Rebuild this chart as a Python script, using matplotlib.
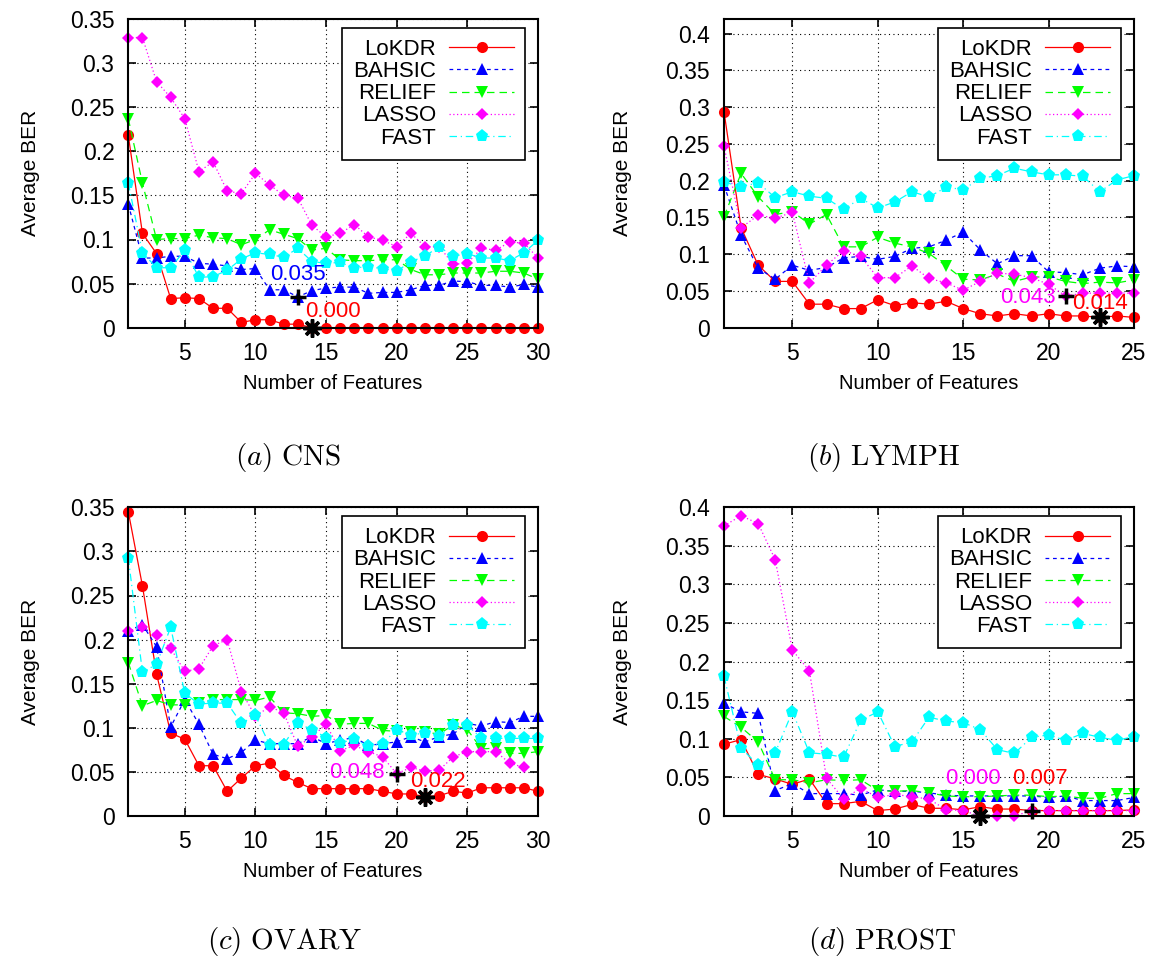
import matplotlib
matplotlib.use('Agg')
import matplotlib.pyplot as plt
from matplotlib.ticker import MultipleLocator, FuncFormatter

plt.rcParams['font.family'] = ['Liberation Sans', 'DejaVu Sans']
plt.rcParams['mathtext.fontset'] = 'cm'

methods = ['LoKDR', 'BAHSIC', 'RELIEF', 'LASSO', 'FAST']

# (a) CNS, 1..30 features
cns_lokdr = [0.218, 0.107, 0.084, 0.033, 0.034, 0.033, 0.022, 0.022, 0.006, 0.009,
             0.009, 0.004, 0.004, 0.0, 0.0, 0.0, 0.0, 0.0, 0.0, 0.0,
             0.0, 0.0, 0.0, 0.0, 0.0, 0.0, 0.0, 0.0, 0.0, 0.0]
cns_bahsic = [0.140, 0.079, 0.079, 0.081, 0.081, 0.073, 0.072, 0.070, 0.066, 0.067,
              0.043, 0.043, 0.035, 0.042, 0.045, 0.046, 0.046, 0.039, 0.040, 0.040,
              0.043, 0.048, 0.048, 0.053, 0.052, 0.048, 0.048, 0.046, 0.049, 0.046]
cns_relief = [0.237, 0.164, 0.100, 0.101, 0.101, 0.105, 0.102, 0.101, 0.094, 0.100,
              0.111, 0.106, 0.101, 0.088, 0.090, 0.077, 0.076, 0.076, 0.077, 0.077,
              0.066, 0.060, 0.060, 0.062, 0.062, 0.062, 0.064, 0.064, 0.062, 0.055]
cns_lasso = [0.329, 0.329, 0.279, 0.261, 0.237, 0.177, 0.188, 0.155, 0.152, 0.175,
             0.162, 0.150, 0.147, 0.116, 0.103, 0.107, 0.117, 0.103, 0.099, 0.092,
             0.107, 0.092, 0.092, 0.072, 0.073, 0.090, 0.088, 0.097, 0.096, 0.079]
cns_fast = [0.164, 0.085, 0.068, 0.068, 0.088, 0.057, 0.058, 0.065, 0.078, 0.085,
            0.083, 0.080, 0.090, 0.075, 0.073, 0.074, 0.068, 0.069, 0.067, 0.064,
            0.075, 0.081, 0.092, 0.081, 0.084, 0.079, 0.079, 0.076, 0.085, 0.099]

# (b) LYMPH, 1..25 features
lymph_lokdr = [0.294, 0.136, 0.085, 0.063, 0.063, 0.032, 0.032, 0.026, 0.026, 0.038,
               0.030, 0.034, 0.032, 0.036, 0.026, 0.019, 0.016, 0.019, 0.016, 0.019,
               0.016, 0.016, 0.014, 0.016, 0.014]
lymph_bahsic = [0.194, 0.126, 0.081, 0.066, 0.085, 0.078, 0.082, 0.095, 0.097, 0.093,
                0.097, 0.108, 0.110, 0.119, 0.130, 0.106, 0.087, 0.098, 0.098, 0.076,
                0.075, 0.072, 0.081, 0.084, 0.083]
lymph_relief = [0.151, 0.210, 0.178, 0.154, 0.158, 0.141, 0.154, 0.110, 0.110, 0.123,
                0.115, 0.110, 0.101, 0.084, 0.066, 0.065, 0.073, 0.063, 0.069, 0.069,
                0.063, 0.060, 0.062, 0.061, 0.065]
lymph_lasso = [0.247, 0.136, 0.153, 0.149, 0.157, 0.061, 0.085, 0.105, 0.097, 0.068,
               0.068, 0.084, 0.067, 0.061, 0.051, 0.063, 0.074, 0.073, 0.068, 0.059,
               0.043, 0.047, 0.047, 0.047, 0.047]
lymph_fast = [0.198, 0.192, 0.197, 0.177, 0.185, 0.179, 0.176, 0.161, 0.176, 0.163,
              0.171, 0.185, 0.178, 0.191, 0.188, 0.203, 0.207, 0.217, 0.212, 0.208,
              0.208, 0.206, 0.185, 0.201, 0.207]

# (c) OVARY, 1..30 features (LASSO stops at 29)
ovary_lokdr = [0.345, 0.261, 0.161, 0.094, 0.087, 0.057, 0.057, 0.028, 0.043, 0.057,
               0.060, 0.046, 0.038, 0.031, 0.031, 0.031, 0.031, 0.031, 0.028, 0.025,
               0.025, 0.022, 0.023, 0.028, 0.026, 0.032, 0.032, 0.032, 0.032, 0.028]
ovary_bahsic = [0.210, 0.217, 0.192, 0.101, 0.132, 0.104, 0.070, 0.065, 0.072, 0.086,
                0.082, 0.082, 0.082, 0.090, 0.082, 0.086, 0.089, 0.080, 0.082, 0.084,
                0.090, 0.084, 0.090, 0.093, 0.105, 0.102, 0.107, 0.106, 0.113, 0.113]
ovary_relief = [0.174, 0.125, 0.131, 0.126, 0.126, 0.128, 0.132, 0.132, 0.132, 0.131,
                0.135, 0.117, 0.116, 0.113, 0.114, 0.104, 0.105, 0.105, 0.097, 0.096,
                0.095, 0.095, 0.093, 0.103, 0.098, 0.076, 0.077, 0.071, 0.071, 0.073]
ovary_lasso = [0.210, 0.214, 0.205, 0.190, 0.164, 0.167, 0.193, 0.200, 0.141, 0.113,
               0.124, 0.117, 0.079, 0.090, 0.104, 0.074, 0.080, 0.073, 0.067, 0.048,
               0.055, 0.051, 0.052, 0.067, 0.073, 0.073, 0.073, 0.060, 0.055]
ovary_fast = [0.293, 0.163, 0.172, 0.214, 0.139, 0.127, 0.128, 0.128, 0.105, 0.114,
              0.081, 0.081, 0.105, 0.098, 0.089, 0.083, 0.087, 0.079, 0.082, 0.098,
              0.092, 0.094, 0.091, 0.103, 0.103, 0.088, 0.088, 0.088, 0.088, 0.088]

# (d) PROST, 1..25 features
prost_lokdr = [0.093, 0.099, 0.054, 0.048, 0.041, 0.048, 0.016, 0.016, 0.019, 0.007,
               0.009, 0.015, 0.010, 0.010, 0.008, 0.012, 0.009, 0.009, 0.007, 0.007,
               0.007, 0.007, 0.007, 0.007, 0.008]
prost_bahsic = [0.146, 0.135, 0.133, 0.033, 0.042, 0.029, 0.029, 0.029, 0.027, 0.034,
                0.032, 0.032, 0.030, 0.027, 0.026, 0.026, 0.026, 0.026, 0.026, 0.024,
                0.026, 0.020, 0.020, 0.020, 0.024]
prost_relief = [0.129, 0.115, 0.096, 0.047, 0.047, 0.043, 0.047, 0.046, 0.047, 0.033,
                0.032, 0.033, 0.030, 0.026, 0.025, 0.025, 0.026, 0.027, 0.027, 0.025,
                0.026, 0.023, 0.023, 0.029, 0.029]
prost_lasso = [0.376, 0.389, 0.379, 0.332, 0.215, 0.188, 0.049, 0.022, 0.036, 0.024,
               0.028, 0.025, 0.022, 0.008, 0.007, 0.0, 0.0, 0.0, 0.007, 0.007,
               0.007, 0.007, 0.007, 0.007, 0.007]
prost_fast = [0.181, 0.088, 0.066, 0.082, 0.135, 0.082, 0.080, 0.076, 0.124, 0.135,
              0.090, 0.096, 0.128, 0.123, 0.121, 0.112, 0.086, 0.081, 0.102, 0.105,
              0.098, 0.107, 0.102, 0.098, 0.103]

# marked minima: (marker, x, y, label, label colour, label x, label y)
cns_marks = [('+', 13, 0.035, '0.035', 'blue', 13.0, 0.060),
             ('*', 14, 0.000, '0.000', 'red', 15.5, 0.018)]
lymph_marks = [('+', 21, 0.043, '0.043', 'magenta', 18.8, 0.041),
               ('*', 23, 0.014, '0.014', 'red', 23.0, 0.033)]
ovary_marks = [('+', 20, 0.048, '0.048', 'magenta', 17.2, 0.049),
               ('*', 22, 0.022, '0.022', 'red', 22.9, 0.039)]
prost_marks = [('*', 16, 0.000, '0.000', 'magenta', 15.6, 0.049),
               ('+', 19, 0.007, '0.007', 'red', 19.5, 0.049)]

panels = [
    ('a', 'CNS', 30, 0.35, [cns_lokdr, cns_bahsic, cns_relief, cns_lasso, cns_fast], cns_marks),
    ('b', 'LYMPH', 25, 0.42, [lymph_lokdr, lymph_bahsic, lymph_relief, lymph_lasso, lymph_fast], lymph_marks),
    ('c', 'OVARY', 30, 0.35, [ovary_lokdr, ovary_bahsic, ovary_relief, ovary_lasso, ovary_fast], ovary_marks),
    ('d', 'PROST', 25, 0.40, [prost_lokdr, prost_bahsic, prost_relief, prost_lasso, prost_fast], prost_marks),
]

styles = {
    'LoKDR':  dict(color='#ff0000', marker='o', ms=8, ls='-'),
    'BAHSIC': dict(color='#0000ff', marker='^', ms=9, ls=(0, (3, 3))),
    'RELIEF': dict(color='#00ff00', marker='v', ms=9, ls=(0, (6, 4))),
    'LASSO':  dict(color='#ff00ff', marker='D', ms=6.3, ls=(0, (1, 2))),
    'FAST':   dict(color='#00ffff', marker='p', ms=9.5, ls=(0, (6, 3, 1, 3))),
}
mark_styles = {'+': dict(marker='+', ms=12, mew=2.5),
               '*': dict(marker=(8, 2, 0), ms=13, mew=2.5)}

fig = plt.figure(figsize=(11.56, 9.64), dpi=100)
W, H = 1156, 964
rects = [(128.3, 19, 538, 327.7), (724, 19, 1134, 327.7),
         (128.3, 507.3, 538, 816), (724, 507.3, 1134, 816)]
captions = [(288, 458), (884, 458), (285, 942), (882, 942)]

for (tag, name, xmax, ymax, series, marks), r, cap in zip(panels, rects, captions):
    x0, y0, x1, y1 = r
    ax = fig.add_axes([x0 / W, 1 - y1 / H, (x1 - x0) / W, (y1 - y0) / H])
    for m, y in zip(methods, series):
        xs = list(range(1, len(y) + 1))
        ax.plot(xs, y, label=m, lw=0.9, mew=0, clip_on=False, **styles[m])
    for mk, mx, my, txt, col, tx, ty in marks:
        ax.plot([mx], [my], color='black', ls='none', clip_on=False, zorder=5, **mark_styles[mk])
        ax.text(tx, ty, txt, color=col, fontsize=16, ha='center', va='center', zorder=6)

    ax.set_xlim(1, xmax)
    ax.set_ylim(0, ymax)
    ax.set_xticks(range(5, xmax + 1, 5))
    ax.yaxis.set_major_locator(MultipleLocator(0.05))
    ax.yaxis.set_major_formatter(FuncFormatter(lambda v, p: f'{round(v, 3):g}'))
    ax.tick_params(direction='in', length=6, width=1.2, top=True, right=True,
                   labelsize=16.5, pad=10)
    ax.grid(True, color='black', ls=(0, (1, 3)), lw=0.8)
    ax.set_axisbelow(True)
    for s in ax.spines.values():
        s.set_linewidth(1.5)

    ax.set_xlabel('Number of Features', fontsize=14.5)
    ax.set_ylabel('Average BER', fontsize=15)
    ax.xaxis.set_label_coords(0.5, -0.15)
    ax.yaxis.set_label_coords(-0.215 if tag in 'ac' else -0.225, 0.5)

    leg = ax.legend(loc='upper right', bbox_to_anchor=(0.968, 0.971), borderaxespad=0,
                    markerfirst=False, numpoints=1, fontsize=16, handlelength=2.9,
                    handletextpad=0.6, labelspacing=0.05, borderpad=0.5,
                    fancybox=False, framealpha=1, edgecolor='black')
    leg.get_frame().set_linewidth(1.2)
    leg.set_zorder(10)

    fig.text(cap[0] / W, 1 - cap[1] / H, r'$(%s)\ \mathrm{%s}$' % (tag, name),
             fontsize=21, ha='center', va='center')

fig.savefig('out.png', dpi=100)
